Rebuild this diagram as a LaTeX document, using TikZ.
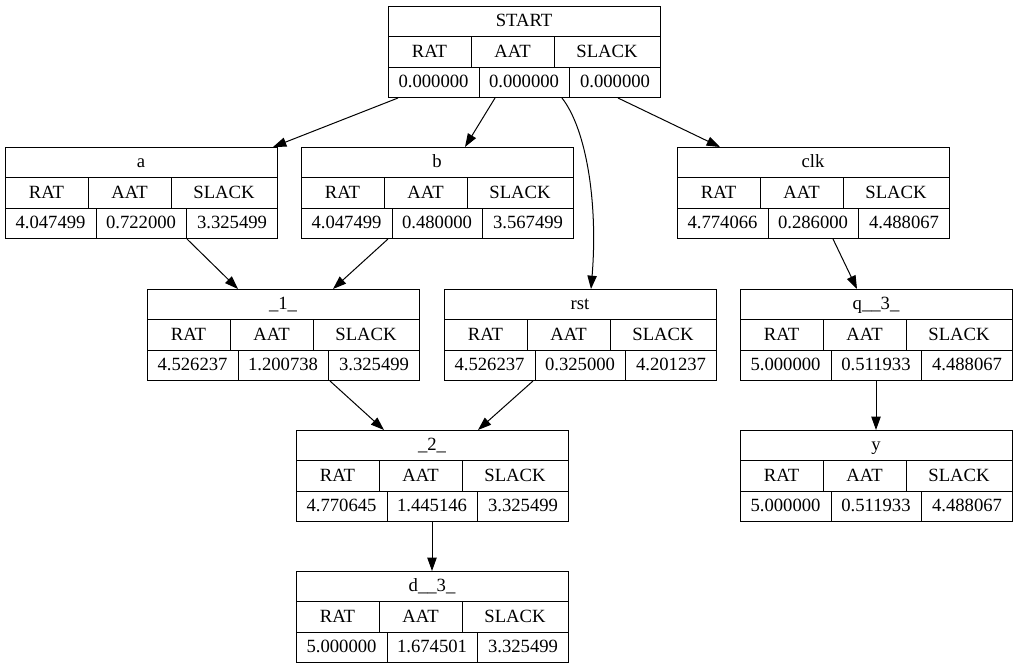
\documentclass[tikz,border=0pt]{standalone}
\usepackage{fontspec}
\setmainfont{Liberation Serif}
\usetikzlibrary{arrows.meta,calc}
\tikzset{
  rec/.style={draw, line width=0.75pt, minimum width=204pt, minimum height=68.25pt, inner sep=0pt, anchor=north west},
  cell/.style={draw=none, inner sep=0pt, anchor=base, font=\fontsize{14}{16}\selectfont},
  sep/.style={line width=0.75pt},
  edge/.style={line width=0.75pt, -{Triangle[length=10pt,width=7pt]}},
}
% \recbox{name}{x0}{y0}{title}{v1}{v2}{v3}
\newcommand{\recbox}[7]{%
  \node[rec] (#1) at (#2,#3) {};
  \draw[sep] ($(#1.north west)+(0,30)$) -- ($(#1.north east)+(0,30)$);
  \draw[sep] ($(#1.north west)+(0,61)$) -- ($(#1.north east)+(0,61)$);
  \draw[sep] ($(#1.north west)+(83,30)$) -- ($(#1.north west)+(83,61)$);
  \draw[sep] ($(#1.north west)+(166,30)$) -- ($(#1.north west)+(166,61)$);
  \draw[sep] ($(#1.north west)+(91,61)$) -- ($(#1.south west)+(91,0)$);
  \draw[sep] ($(#1.north west)+(181,61)$) -- ($(#1.south west)+(181,0)$);
  \node[cell] (#1-t) at ($(#1.north west)+(136,20.5)$) {#4};
  \node[cell] (#1-h1) at ($(#1.north west)+(41.5,51)$) {RAT};
  \node[cell] (#1-h2) at ($(#1.north west)+(124.5,51)$) {AAT};
  \node[cell] (#1-h3) at ($(#1.north west)+(219,51)$) {SLACK};
  \node[cell] (#1-v1) at ($(#1.north west)+(45.5,81.5)$) {#5};
  \node[cell] (#1-v2) at ($(#1.north west)+(136,81.5)$) {#6};
  \node[cell] (#1-v3) at ($(#1.north west)+(227,81.5)$) {#7};
}
\begin{document}
\begin{tikzpicture}[x=0.75pt, y=-0.75pt]
\useasboundingbox (0,0) rectangle (1017,669);
\recbox{start}{388}{6}{START}{0.000000}{0.000000}{0.000000}
\recbox{a}{5}{147}{a}{4.047499}{0.722000}{3.325499}
\recbox{b}{301}{147}{b}{4.047499}{0.480000}{3.567499}
\recbox{clk}{677}{147}{clk}{4.774066}{0.286000}{4.488067}
\recbox{n1}{147}{289}{\_1\_}{4.526237}{1.200738}{3.325499}
\recbox{rst}{444}{289}{rst}{4.526237}{0.325000}{4.201237}
\recbox{q3}{740}{289}{q\_\_3\_}{5.000000}{0.511933}{4.488067}
\recbox{n2}{296}{430}{\_2\_}{4.770645}{1.445146}{3.325499}
\recbox{y}{740}{430}{y}{5.000000}{0.511933}{4.488067}
\recbox{d3}{296}{571}{d\_\_3\_}{5.000000}{1.674501}{3.325499}

\draw[edge] ($(start.south west)+(10,0)$) -- ($(a.north west)+(268,0)$);
\draw[edge] ($(start.south west)+(107,0)$) -- ($(b.north west)+(164,0)$);
\draw[edge] ($(start.south west)+(174,0)$) .. controls (587,130) and (598,205) .. ($(rst.north west)+(147,0)$);
\draw[edge] ($(start.south west)+(230,0)$) -- ($(clk.north west)+(43,0)$);
\draw[edge] ($(a.south west)+(182,0)$) -- ($(n1.north west)+(91,0)$);
\draw[edge] ($(b.south west)+(87,0)$) -- ($(n1.north west)+(186,0)$);
\draw[edge] ($(n1.south west)+(183,0)$) -- ($(n2.north west)+(88,0)$);
\draw[edge] ($(rst.south west)+(89,0)$) -- ($(n2.north west)+(182,0)$);
\draw[edge] ($(clk.south west)+(156,0)$) -- ($(q3.north west)+(117,0)$);
\draw[edge] ($(q3.south west)+(136,0)$) -- ($(y.north west)+(136,0)$);
\draw[edge] ($(n2.south west)+(136,0)$) -- ($(d3.north west)+(136,0)$);
\end{tikzpicture}
\end{document}
